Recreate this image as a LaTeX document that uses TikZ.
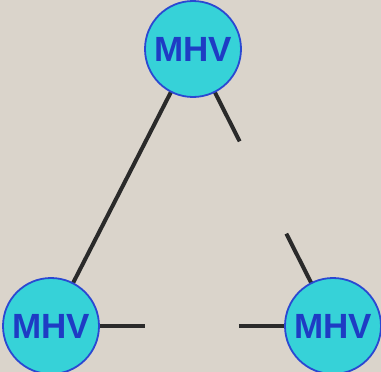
\documentclass[tikz,border=0pt]{standalone}
\usepackage{fontspec}
\setmainfont{Liberation Sans}
\usetikzlibrary{calc,backgrounds}
\definecolor{paper}{HTML}{DAD4CB}
\definecolor{discfill}{HTML}{36D2D8}
\definecolor{discedge}{HTML}{2A48D2}
\definecolor{disctext}{HTML}{1E3CC4}
\definecolor{wire}{HTML}{2A2A2A}
\tikzset{
  vertex/.style={circle, draw=discedge, line width=1.8pt, fill=discfill,
    minimum size=96pt, inner sep=0pt, text=disctext,
    font=\fontsize{35}{35}\selectfont\bfseries},
  wire/.style={draw=wire, line width=4pt}
}
\begin{document}
\begin{tikzpicture}[x=1pt,y=-1pt]
  \useasboundingbox (0,0) rectangle (381,372);
  \node[vertex] (t) at (193,49) {MHV};
  \node[vertex] (l) at (51,326) {MHV};
  \node[vertex] (r) at (333,326) {MHV};
  \begin{scope}[on background layer]
    \fill[paper] (0,0) rectangle (381,372);
    \draw[wire] (t.center) -- (l.center);
    \draw[wire] (t.center) -- ($(t)!1/3!(r)$);
    \draw[wire] ($(t)!2/3!(r)$) -- (r.center);
    \draw[wire] (l.center) -- ($(l)!1/3!(r)$);
    \draw[wire] ($(l)!2/3!(r)$) -- (r.center);
  \end{scope}
\end{tikzpicture}
\end{document}
